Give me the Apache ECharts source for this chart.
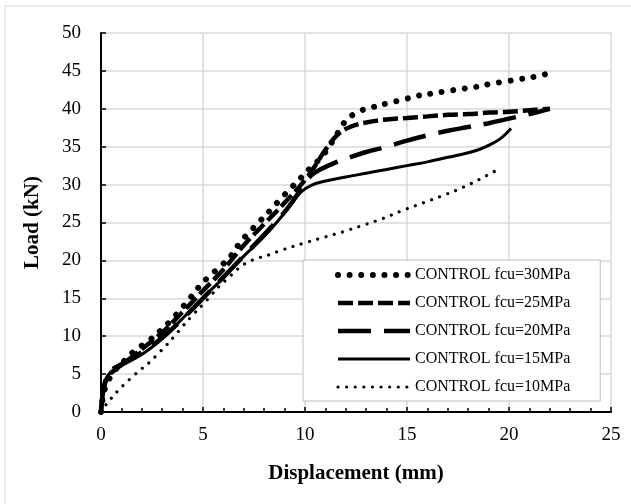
<!DOCTYPE html>
<html>
<head>
<meta charset="utf-8">
<script src="https://cdn.jsdelivr.net/npm/echarts@6/dist/echarts.min.js"></script>
<style>html,body{margin:0;padding:0;background:#fff;}#c{width:631px;height:504px;}</style>
</head>
<body>
<div id="c"></div>
<script>
const seriesNames = ['CONTROL fcu=30MPa','CONTROL fcu=25MPa','CONTROL fcu=20MPa','CONTROL fcu=15MPa','CONTROL fcu=10MPa'];

const x30 = [0,0.1,0.28,0.69,1.2,1.7,2.3,2.9,3.4,3.9,4.3,4.8,5.3,5.9,6.4,6.8,7.3,7.8,8.3,8.8,9.3,9.8,10.3,10.8,11.2,11.6,12.0,12.6,13.3,14.0,14.8,15.5,16.2,16.9,17.6,18.4,19.1,19.8,20.5,21.2,22.0];
const y30 = [0,2.0,3.7,5.5,6.9,8.2,9.3,10.7,12.0,13.5,14.8,16.5,17.9,19.3,20.7,22.3,23.8,25.2,26.6,28.1,29.5,30.9,32.3,33.6,35.1,36.8,38.4,39.6,40.2,40.7,41.2,41.7,42.0,42.3,42.6,42.9,43.3,43.6,43.9,44.2,44.7];

const x25 = [0,0.1,0.3,0.7,1.2,2.0,3.0,4.0,5.0,6.0,7.0,8.0,9.0,10.0,10.5,11.0,11.6,12.2,13.0,14.0,15.0,16.0,17.0,18.0,19.0,20.0,21.0,22.0];
const y25 = [0,2.5,4.5,5.6,6.6,8.3,10.5,13.2,16.0,18.8,22.0,24.8,27.6,30.6,32.5,34.6,36.6,37.6,38.2,38.6,38.8,39.0,39.2,39.3,39.5,39.6,39.8,40.0];

const x20 = [0,0.1,0.3,0.6,1.0,2.0,3.0,4.0,5.0,6.0,7.0,8.0,9.0,9.6,10.0,10.5,11.4,12.0,13.0,14.0,15.0,16.0,17.0,18.0,19.0,20.0,21.0,22.0];
const y20 = [0,2.6,4.8,5.7,6.3,7.9,9.8,12.3,15.0,17.8,20.6,23.4,26.4,28.6,30.3,31.6,32.8,33.4,34.3,35.0,35.8,36.5,37.1,37.6,38.1,38.7,39.3,40.0];

const x15 = [0,0.1,0.28,0.6,1.0,2.0,2.8,3.4,4.2,5.0,6.0,6.9,7.9,8.7,9.3,9.8,10.3,10.9,12.0,13.0,14.0,15.0,16.0,17.0,18.0,18.6,19.1,19.6,20.1];
const y15 = [0,2.5,4.6,5.5,6.1,7.6,9.2,10.7,12.9,15.1,17.7,20.3,22.9,25.3,27.3,29.0,29.9,30.4,31.0,31.5,32.0,32.5,33.0,33.6,34.2,34.7,35.3,36.1,37.4];

const x10 = [0,0.14,0.5,0.83,1.2,1.6,2.0,2.4,2.8,3.2,3.6,4.0,4.5,5.0,5.4,5.8,6.2,6.6,6.9,7.3,7.7,8.2,8.9,10.1,11.0,11.9,12.8,13.8,14.7,15.8,16.8,17.8,18.7,19.6];
const y10 = [0,0.6,1.8,2.8,3.8,4.8,5.7,6.6,7.7,8.8,10.0,11.3,12.8,14.2,15.4,16.6,17.6,18.6,19.3,19.9,20.3,20.7,21.4,22.4,23.1,23.8,24.6,25.5,26.5,27.6,28.6,29.7,30.9,32.2];

const xTitle = 'Displacement (mm)';
const yTitle = 'Load (kN)';

function zip(xs, ys){ return xs.map((x,i)=>[x, ys[i]]); }

const FONT = '"Liberation Serif","Times New Roman",serif';
const styles = [
  {width:6, type:[0.01,11.6], cap:'round'},
  {width:4.5, type:[15,5], cap:'butt'},
  {width:4.5, type:[33,13], cap:'butt'},
  {width:3, type:'solid', cap:'butt'},
  {width:3.2, type:[0.01,8.6], cap:'round'}
];
const datas = [zip(x30,y30), zip(x25,y25), zip(x20,y20), zip(x15,y15), zip(x10,y10)];

const chart = echarts.init(document.getElementById('c'), null, {renderer:'canvas'});
chart.setOption({
  animation:false,
  backgroundColor:'#fff',
  graphic:[{type:'rect', shape:{x:5, y:6, width:800, height:700}, style:{fill:'none', stroke:'#d9d9d9', lineWidth:1}, silent:true, z:-10}],
  grid:{left:101, right:20, top:33, bottom:92},
  legend:{
    orient:'vertical', left:303, top:260,
    data: seriesNames.map((n,i)=>({
      name:n,
      itemStyle:{opacity:0},
      lineStyle:{color:'#000', width:styles[i].width, type:styles[i].type, cap:styles[i].cap, opacity:1}
    })),
    itemWidth:72, itemHeight:14, itemGap:12, itemTextGap:6,
    itemStyle:{opacity:0},
    padding:[7,30,6,32],
    backgroundColor:'#fff', borderColor:'#bfbfbf', borderWidth:1,
    textStyle:{fontFamily:FONT, fontSize:16, color:'#000'}
  },
  xAxis:{
    type:'value', min:0, max:25, interval:5,
    name:xTitle, nameLocation:'middle', nameGap:51,
    nameTextStyle:{fontFamily:FONT, fontSize:21, fontWeight:'bold', color:'#000'},
    axisLine:{show:true, onZero:false, lineStyle:{color:'#000', width:2}},
    axisTick:{show:true, inside:true, length:5, lineStyle:{color:'#000', width:1.5}},
    minorTick:{show:true, splitNumber:5, length:4, lineStyle:{color:'#000', width:1.5}},
    axisLabel:{fontFamily:FONT, fontSize:19, color:'#000', margin:14},
    splitLine:{show:true, lineStyle:{color:'#d9d9d9', width:1.5}}
  },
  yAxis:{
    type:'value', min:0, max:50, interval:5,
    name:yTitle, nameLocation:'middle', nameGap:58, nameRotate:90,
    nameTextStyle:{fontFamily:FONT, fontSize:21, fontWeight:'bold', color:'#000'},
    axisLine:{show:true, onZero:false, lineStyle:{color:'#000', width:2}},
    axisTick:{show:true, inside:true, length:5, lineStyle:{color:'#000', width:1.5}},
    axisLabel:{fontFamily:FONT, fontSize:19, color:'#000', margin:20},
    splitLine:{show:true, lineStyle:{color:'#d9d9d9', width:1.5}}
  },
  series: seriesNames.map((n,i)=>({
    name:n, type:'line', data:datas[i], symbol:'none', showSymbol:false,
    smooth:0.4,
    lineStyle:{color:'#000', width:styles[i].width, type:styles[i].type, cap:styles[i].cap},
    itemStyle:{color:'#000'},
    z: 2 + i
  }))
});
</script>
</body>
</html>
